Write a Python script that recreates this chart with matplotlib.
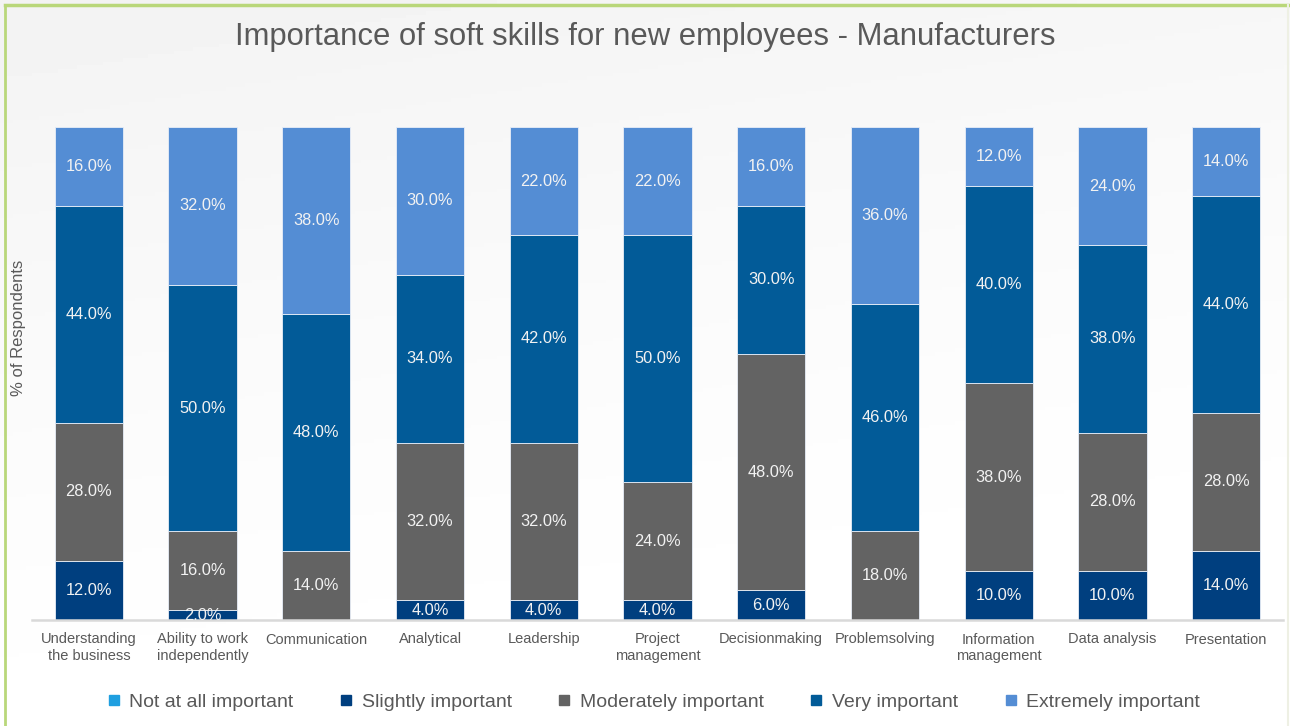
import numpy as np
import matplotlib
matplotlib.use("Agg")
import matplotlib.pyplot as plt
from matplotlib.lines import Line2D

plt.rcParams['font.family'] = ['Liberation Sans', 'DejaVu Sans']

categories = ["Understanding\nthe business", "Ability to work\nindependently",
              "Communication", "Analytical", "Leadership", "Project\nmanagement",
              "Decisionmaking", "Problemsolving", "Information\nmanagement",
              "Data analysis", "Presentation"]
series_names = ["Not at all important", "Slightly important",
                "Moderately important", "Very important", "Extremely important"]
not_at_all = [0, 0, 0, 0, 0, 0, 0, 0, 0, 0, 0]
slightly = [12, 2, 0, 4, 4, 4, 6, 0, 10, 10, 14]
moderately = [28, 16, 14, 32, 32, 24, 48, 18, 38, 28, 28]
very = [44, 50, 48, 34, 42, 50, 30, 46, 40, 38, 44]
extremely = [16, 32, 38, 30, 22, 22, 16, 36, 12, 24, 14]

colors = ["#1F9FE0", "#003F7F", "#636363", "#025B98", "#548DD4"]
text_gray = "#595959"

W, H = 1290, 726
fig = plt.figure(figsize=(W / 100, H / 100), dpi=100)

# background: soft grey fading to white, green frame on top/left
bg = fig.add_axes([0, 0, 1, 1], zorder=-10)
yy, xx = np.mgrid[0:1:200j, 0:1:200j]
grad = np.clip(1 - (yy * 0.9 + xx * 0.25), 0, 1) ** 1.5
bg.imshow(1 - 0.05 * grad, cmap="gray", vmin=0, vmax=1, aspect="auto",
          extent=[0, 1, 0, 1], origin="upper")
bg.set_xlim(0, 1)
bg.set_ylim(0, 1)
bg.axis("off")
bg.plot([4.5 / W, 4.5 / W], [0.0, 1 - 4.5 / H], color="#B9D77A", lw=2)
bg.plot([4.5 / W, 1.0], [1 - 4.5 / H, 1 - 4.5 / H], color="#B9D77A", lw=2.5)
bg.plot([1287.5 / W, 1287.5 / W], [0.0, 1 - 4.5 / H], color="#EEF0E4", lw=1.5)

ax = fig.add_axes([32 / W, 1 - 620 / H, (1283 - 32) / W, (620 - 127) / H])
ax.patch.set_alpha(0)

x = np.arange(len(categories))
bottom = np.zeros(len(categories))
for name, vals, col in zip(series_names,
                           [not_at_all, slightly, moderately, very, extremely],
                           colors):
    vals = np.array(vals, dtype=float)
    ax.bar(x, vals, 0.6, bottom=bottom, color=col, label=name,
           edgecolor="#E8EEF7", linewidth=0.6)
    for xi, b, v in zip(x, bottom, vals):
        if v > 0:
            ax.text(xi, b + v / 2, "{:.1f}%".format(v), ha="center",
                    va="center", color="#F2F2F2", fontsize=11.8)
    bottom += vals

ax.set_xlim(-0.5, 10.5)
ax.set_ylim(0, 100)
ax.set_yticks([])
ax.set_xticks(x)
ax.set_xticklabels(categories, fontsize=10.5, color=text_gray, linespacing=1.2)
ax.tick_params(axis="x", length=0, pad=9)
for s in ["top", "right", "left"]:
    ax.spines[s].set_visible(False)
ax.spines["bottom"].set_color("#D9D9D9")
ax.spines["bottom"].set_linewidth(1.8)

fig.text(19 / W, 1 - 328 / H, "% of Respondents", rotation=90, ha="center",
         va="center", fontsize=12, color=text_gray)
fig.text(0.5, 1 - 37 / H,
         "Importance of soft skills for new employees - Manufacturers",
         ha="center", va="center", fontsize=22.3, color=text_gray)

handles = [Line2D([], [], marker="s", ls="", color=c, markersize=7)
           for c in colors]
fig.legend(handles, series_names, loc="center", ncol=5,
           bbox_to_anchor=(652 / W, 1 - 702 / H), frameon=False,
           fontsize=14, labelcolor=text_gray, handletextpad=0.3,
           columnspacing=2.2, handlelength=1.0)

fig.savefig("out.png", dpi=100)
